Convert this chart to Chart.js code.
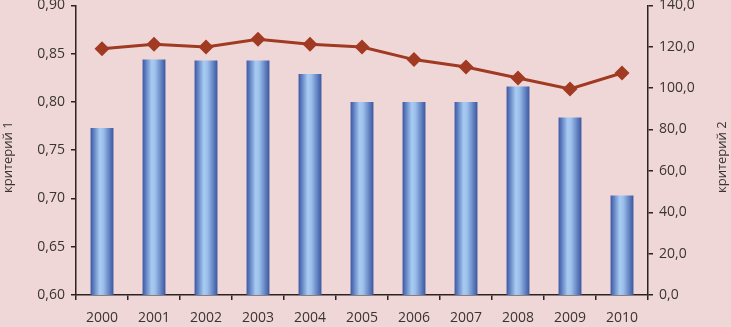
<!DOCTYPE html>
<html lang="ru">
<head>
<meta charset="UTF-8">
<title>критерий 1 / критерий 2</title>
<script src="https://cdn.jsdelivr.net/npm/chart.js@4.4.0/dist/chart.umd.min.js"></script>
<style>
  html, body { margin: 0; padding: 0; background: #F0D7D7; overflow: hidden; }
  .box { position: absolute; left: 0; top: -9px; width: 731px; height: 336px; }
</style>
</head>
<body>
<div class="box"><canvas id="grafico"></canvas></div>
<script>
  // dados
  const anos = ['2000', '2001', '2002', '2003', '2004', '2005', '2006', '2007', '2008', '2009', '2010'];
  const criterio1 = [0.773, 0.844, 0.843, 0.843, 0.829, 0.800, 0.800, 0.800, 0.816, 0.784, 0.703];
  const criterio2 = [119.1, 121.2, 119.9, 123.6, 121.2, 119.9, 113.8, 110.2, 104.9, 99.6, 107.3];

  const corEixo = '#2b2222';
  const corTexto = '#3a3333';
  const corLinha = '#A03A22';
  const fonte = { family: "'Open Sans', 'Liberation Sans', sans-serif", size: 14 };
  const larguraBarra = 0.44;

  // gradiente horizontal de cada barra
  function gradienteBarra(ctx) {
    const chart = ctx.chart;
    const x = chart.scales.x;
    if (!x || !chart.chartArea) return '#6f93d3';
    const centro = x.getPixelForValue(ctx.dataIndex);
    const meia = (x.width / anos.length) * larguraBarra / 2;
    const g = chart.ctx.createLinearGradient(centro - meia, 0, centro + meia, 0);
    g.addColorStop(0, '#3a57a4');
    g.addColorStop(0.4, '#a7cbf2');
    g.addColorStop(0.55, '#9dc1ec');
    g.addColorStop(1, '#3a56a2');
    return g;
  }

  // titulos dos eixos, os dois lidos de baixo para cima
  const titulosEixos = {
    id: 'titulosEixos',
    afterDraw(chart) {
      const c = chart.ctx;
      const meio = (chart.chartArea.top + chart.chartArea.bottom) / 2 + 7;
      [[8, 'критерий 1'], [722, 'критерий 2']].forEach(([x, texto]) => {
        c.save();
        c.translate(x, meio);
        c.rotate(-Math.PI / 2);
        c.font = "13px 'Open Sans', 'Liberation Sans', sans-serif";
        c.fillStyle = corTexto;
        c.textAlign = 'center';
        c.textBaseline = 'middle';
        c.fillText(texto, 0, 0);
        c.restore();
      });
    }
  };

  new Chart(document.getElementById('grafico'), {
    data: {
      labels: anos,
      datasets: [
        {
          type: 'line',
          label: 'критерий 2',
          data: criterio2,
          yAxisID: 'y2',
          borderColor: corLinha,
          backgroundColor: corLinha,
          borderWidth: 3,
          pointStyle: 'rectRot',
          pointRadius: 7.5,
          pointBorderWidth: 0,
          tension: 0,
          order: 0
        },
        {
          type: 'bar',
          label: 'критерий 1',
          data: criterio1,
          yAxisID: 'y',
          backgroundColor: gradienteBarra,
          borderWidth: 0,
          categoryPercentage: 1,
          barPercentage: larguraBarra,
          order: 1
        }
      ]
    },
    options: {
      responsive: true,
      maintainAspectRatio: false,
      animation: false,
      layout: { padding: 0 },
      plugins: {
        legend: { display: false },
        tooltip: { enabled: false }
      },
      scales: {
        x: {
          offset: true,
          grid: { display: true, drawOnChartArea: false, offset: true, color: corEixo, tickLength: 5, lineWidth: 1.5 },
          border: { color: corEixo, width: 1.5 },
          ticks: { color: corTexto, font: fonte, padding: 10, maxRotation: 0 },
          afterFit(s) { s.height = 32; }
        },
        y: {
          position: 'left',
          min: 0.6,
          max: 0.9,
          ticks: {
            stepSize: 0.05,
            color: corTexto,
            font: fonte,
            padding: 6,
            callback: v => v.toFixed(2).replace('.', ',')
          },
          grid: { drawOnChartArea: false, color: corEixo, tickLength: 5, lineWidth: 1.5 },
          border: { color: corEixo, width: 1.5 },
          afterFit(s) { s.width = 76; }
        },
        y2: {
          position: 'right',
          min: 0,
          max: 140,
          ticks: {
            stepSize: 20,
            color: corTexto,
            font: fonte,
            padding: 6,
            callback: v => v.toFixed(1).replace('.', ',')
          },
          grid: { drawOnChartArea: false, color: corEixo, tickLength: 5, lineWidth: 1.5 },
          border: { color: corEixo, width: 1.5 },
          afterFit(s) { s.width = 83; }
        }
      }
    },
    plugins: [titulosEixos]
  });
</script>
</body>
</html>
